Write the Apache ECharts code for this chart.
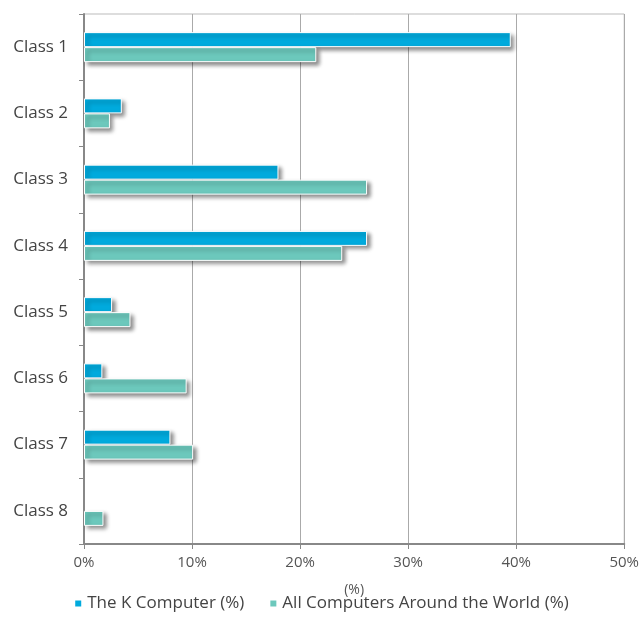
<!DOCTYPE html>
<html>
<head>
<meta charset="utf-8">
<script src="https://cdn.jsdelivr.net/npm/echarts@6/dist/echarts.min.js"></script>
<style>
  html, body { margin: 0; padding: 0; background: #fff; }
  #main { width: 642px; height: 630px; }
</style>
</head>
<body>
<div id="main"></div>
<script>
// 数据
var categories = ["Class 1", "Class 2", "Class 3", "Class 4", "Class 5", "Class 6", "Class 7", "Class 8"];
var kComputer = [39.5, 3.5, 18.0, 26.2, 2.6, 1.7, 8.0, 0];
var allComputers = [21.5, 2.4, 26.2, 23.9, 4.3, 9.5, 10.1, 1.8];
var xTicks = [0, 10, 20, 30, 40, 50];

(function () {
  var myEcharts = echarts.init(document.getElementById('main'))
  var textFont = "'Open Sans', 'DejaVu Sans', sans-serif"
  var shadow = {
    borderColor: "#fff",
    borderWidth: 1,
    shadowColor: "rgba(0,0,0,0.45)",
    shadowBlur: 4,
    shadowOffsetX: 3,
    shadowOffsetY: 3
  }
  // 0 值的柱子不画阴影
  function toData(arr) {
    return arr.map(function (v) {
      if (v === 0) {
        return { value: v, itemStyle: { borderWidth: 0, shadowColor: 'transparent' } }
      }
      return v
    })
  }
  var option = {
    animation: false,
    textStyle: { fontFamily: textFont },
    legend: {
      bottom: 13,
      left: 'center',
      itemWidth: 8,
      itemHeight: 8,
      itemGap: 24,
      icon: 'rect',
      textStyle: { color: "#444", fontSize: 17, fontFamily: textFont },
      data: ["The K Computer (%)", "All Computers Around the World (%)"]
    },
    grid: {
      left: 84,
      right: 15,
      top: 14,
      bottom: 86,
      show: true,
      borderColor: "#bbb",
      borderWidth: 1
    },
    xAxis: {
      type: 'value',
      min: xTicks[0],
      max: xTicks[xTicks.length - 1],
      interval: 10,
      name: "(%)",
      nameLocation: 'middle',
      nameGap: 39,
      nameTextStyle: { color: "#555", fontSize: 14 },
      axisLine: { show: true, lineStyle: { color: "#888", width: 2 } },
      axisTick: { show: true, length: 5, lineStyle: { color: "#888" } },
      axisLabel: {
        color: "#555",
        fontSize: 15,
        margin: 11,
        formatter: "{value}%"
      },
      splitLine: { show: true, lineStyle: { color: "#aaa", width: 1 } }
    },
    yAxis: {
      type: 'category',
      inverse: true,
      data: categories,
      axisLine: { show: true, lineStyle: { color: "#888", width: 2 } },
      axisTick: { show: true, length: 5, lineStyle: { color: "#888" } },
      axisLabel: { color: "#444", fontSize: 17, margin: 16 }
    },
    series: [
      {
        name: "The K Computer (%)",
        type: 'bar',
        data: toData(kComputer),
        barWidth: 15,
        barGap: '0%',
        itemStyle: Object.assign({ color: "#00aadd" }, shadow)
      },
      {
        name: "All Computers Around the World (%)",
        type: 'bar',
        data: toData(allComputers),
        barWidth: 15,
        barGap: '0%',
        itemStyle: Object.assign({ color: "#6cc8bc" }, shadow)
      }
    ]
  };
  myEcharts.setOption(option)
})();
</script>
</body>
</html>
